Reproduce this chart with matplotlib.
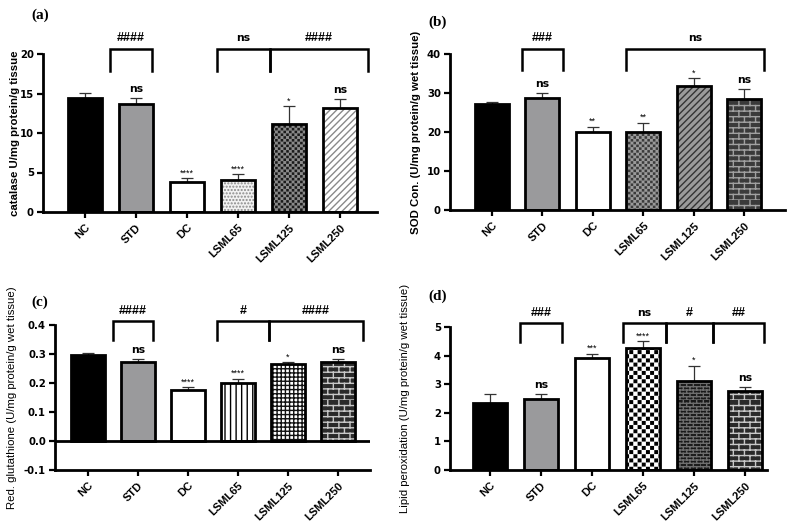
import warnings
warnings.filterwarnings('ignore')
import matplotlib
matplotlib.use('Agg')
import matplotlib.pyplot as plt
import matplotlib.hatch as mhatch
import matplotlib.transforms as mtrans
from matplotlib.path import Path
import numpy as np

# ---------------- data ----------------
categories = ['NC', 'STD', 'DC', 'LSML65', 'LSML125', 'LSML250']

catalase_mean = [14.4, 13.7, 3.8, 4.05, 11.1, 13.2]
catalase_err = [0.7, 0.7, 0.5, 0.75, 2.3, 1.1]
catalase_sig = ['', 'ns', '****', '****', '*', 'ns']
catalase_brackets = [(0.49, 1.32, '####'), (2.59, 3.64, 'ns'), (3.64, 5.55, '####')]

sod_mean = [27.1, 28.8, 20.1, 20.1, 31.9, 28.5]
sod_err = [0.7, 1.1, 1.3, 2.3, 1.9, 2.5]
sod_sig = ['', 'ns', '**', '**', '*', 'ns']
sod_brackets = [(0.6, 1.41, '###'), (2.65, 5.39, 'ns')]

gsh_mean = [0.295, 0.274, 0.175, 0.200, 0.266, 0.273]
gsh_err = [0.008, 0.009, 0.011, 0.015, 0.006, 0.010]
gsh_sig = ['', 'ns', '****', '****', '*', 'ns']
gsh_brackets = [(0.5, 1.3, '####'), (2.58, 3.62, '#'), (3.62, 5.5, '####')]

lpo_mean = [2.36, 2.49, 3.92, 4.27, 3.12, 2.77]
lpo_err = [0.30, 0.17, 0.15, 0.23, 0.53, 0.12]
lpo_sig = ['', 'ns', '***', '****', '*', 'ns']
lpo_brackets = [(0.6, 1.42, '###'), (2.6, 3.45, 'ns'), (3.45, 4.37, '#'), (4.37, 5.37, '##')]


# ---------------- custom hatches ----------------
class BrickHatch(mhatch.HatchPatternBase):
    def __init__(self, hatch, density):
        n = hatch.count('b') * density
        n = n + (n % 2)
        self.n = n
        self.num_vertices = (2 * n + n * (n // 2) * 2) if n else 0

    def set_vertices_and_codes(self, vertices, codes):
        n = self.n
        k = 0
        for i in range(n):
            y0 = i / n
            vertices[k] = (0, y0)
            vertices[k + 1] = (1, y0)
            codes[k] = Path.MOVETO
            codes[k + 1] = Path.LINETO
            k += 2
            for j in range(n // 2):
                x = (2 * j + (i % 2)) / n
                vertices[k] = (x, y0)
                vertices[k + 1] = (x, y0 + 1 / n)
                codes[k] = Path.MOVETO
                codes[k + 1] = Path.LINETO
                k += 2


class CheckerHatch(mhatch.HatchPatternBase):
    def __init__(self, hatch, density):
        n = hatch.count('c') * density
        n = n + (n % 2)
        self.n = n
        self.num_vertices = (n * n // 2) * 5 if n else 0

    def set_vertices_and_codes(self, vertices, codes):
        n = self.n
        k = 0
        ins = min(0.008, 0.3 / n)
        for i in range(n):
            for j in range(n):
                if (i + j) % 2:
                    continue
                x0, y0, s = j / n + ins, i / n + ins, 1 / n - 2 * ins
                vertices[k:k + 5] = [(x0, y0), (x0 + s, y0), (x0 + s, y0 + s),
                                     (x0, y0 + s), (x0, y0)]
                codes[k:k + 5] = [Path.MOVETO, Path.LINETO, Path.LINETO,
                                  Path.LINETO, Path.CLOSEPOLY]
                k += 5


mhatch._hatch_types.append(BrickHatch)
mhatch._hatch_types.append(CheckerHatch)

plt.rcParams['font.family'] = ['Liberation Sans', 'DejaVu Sans']
plt.rcParams['hatch.linewidth'] = 1.0

# bar styles: (facecolor, hatch, hatchcolor)
styles_a = [('black', None, 'black'), ('#9a9a9c', None, 'black'), ('white', None, 'black'),
            ('#f2f2f2', '.....', '#8a8a8a'), ('#8a8a8a', 'cccccc', '#1a1a1a'),
            ('white', '/////', '#8a8a8a')]
styles_b = [('black', None, 'black'), ('#9a9a9c', None, 'black'), ('white', None, 'black'),
            ('#9a9a9a', 'cccccc', '#3a3a3a'), ('#9a9a9a', '/////', '#333333'),
            ('#3a3a3a', 'bbb', '#a0a0a0')]
styles_c = [('black', None, 'black'), ('#9a9a9c', None, 'black'), ('white', None, 'black'),
            ('white', '|||', 'black'), ('white', '++++', '#111111'),
            ('#2a2a2a', 'bbb', '#c8c8c8')]
styles_d = [('black', None, 'black'), ('#9a9a9c', None, 'black'), ('white', None, 'black'),
            ('white', 'cccc', 'black'), ('#1a1a1a', 'bbbbb', '#6e6e6e'),
            ('#2a2a2a', 'bbb', '#c8c8c8')]

W, H = 789, 526
fig = plt.figure(figsize=(W / 100, H / 100), dpi=100)


def px_rect(left, right, top, bottom):
    return [left / W, 1 - bottom / H, (right - left) / W, (bottom - top) / H]


def panel(box, means, errs, sigs, brackets, styles, ylim, yticks, yfmt,
          ylabel, ylabel_bold, ylabel_px, letter, letter_xy, xlim, baseline_zero=False):
    left, right, top, bottom = box
    ax = fig.add_axes(px_rect(left, right, top, bottom))
    x = np.arange(len(categories))
    for i, (m, st) in enumerate(zip(means, styles)):
        fc, h, hc = st
        ax.bar(x[i], m, width=0.67, color=fc, edgecolor=hc, hatch=h, linewidth=0, zorder=2)
    ax.bar(x, means, width=0.67, fill=False, edgecolor='black', linewidth=2.0, zorder=3)
    ax.errorbar(x, means, yerr=[np.zeros(len(means)), errs], fmt='none', ecolor='#333333',
                elinewidth=0.9, capsize=4.5, capthick=0.9, zorder=1)
    # significance marks
    for xi, m, e, s in zip(x, means, errs, sigs):
        if not s:
            continue
        if s == 'ns':
            ax.annotate(s, (xi, m + e), xytext=(0, 3), textcoords='offset points',
                        ha='center', va='bottom', fontsize=7.8, fontweight='bold',
                        fontfamily='DejaVu Sans')
        else:
            ax.annotate(s, (xi, m + e), xytext=(0, 0.5), textcoords='offset points',
                        ha='center', va='bottom', fontsize=6.5)
    # brackets
    tr = mtrans.blended_transform_factory(ax.transData, ax.transAxes)
    for (x0, x1, lab) in brackets:
        ax.plot([x0, x0, x1, x1], [0.895, 1.03, 1.03, 0.895], color='black', lw=1.8,
                transform=tr, clip_on=False, solid_joinstyle='miter', zorder=4)
        if lab == 'ns':
            ax.text((x0 + x1) / 2, 1.1, lab, transform=tr, ha='center', va='center',
                    fontsize=7.8, fontweight='bold', fontfamily='DejaVu Sans')
        else:
            ax.text((x0 + x1) / 2, 1.1, lab, transform=tr, ha='center', va='center',
                    fontsize=9, fontweight='bold')
    ax.set_xlim(*xlim)
    ax.set_ylim(*ylim)
    ax.set_yticks(yticks)
    ax.set_yticklabels([yfmt.format(t) for t in yticks], fontweight='bold', fontsize=7.3,
                       fontfamily='DejaVu Sans')
    ax.set_xticks(x)
    ax.set_xticklabels(categories, rotation=45, ha='right', va='top',
                       rotation_mode='anchor', fontweight='bold', fontsize=8)
    ax.tick_params(axis='both', direction='out', width=1.6, length=4.5, pad=2)
    ax.tick_params(axis='x', pad=3)
    for sp in ['top', 'right']:
        ax.spines[sp].set_visible(False)
    for sp in ['left', 'bottom']:
        ax.spines[sp].set_linewidth(2.0)
    if baseline_zero:
        ax.axhline(0, color='black', lw=2.0, zorder=4)
    ax.set_ylabel(ylabel, fontsize=8.2, fontweight='bold' if ylabel_bold else 'normal')
    ax.yaxis.set_label_coords((ylabel_px - left) / (right - left), 0.5)
    fig.text(letter_xy[0] / W, 1 - letter_xy[1] / H, letter, fontfamily='Liberation Serif',
             fontweight='bold', fontsize=11, ha='center', va='center')
    return ax


panel((43, 377, 54, 212), catalase_mean, catalase_err, catalase_sig, catalase_brackets,
      styles_a, (0, 20), [0, 5, 10, 15, 20], '{:.0f}', 'catalase U/mg protein/g tissue', True, 20,
      '(a)', (40, 15), (-0.82, 5.73))
panel((450, 785, 54, 210), sod_mean, sod_err, sod_sig, sod_brackets,
      styles_b, (0, 40), [0, 10, 20, 30, 40], '{:.0f}', 'SOD Con. (U/mg protein/g wet tissue)', True,
      421, '(b)', (438, 22), (-0.83, 5.81))
panel((55, 370, 325, 470), gsh_mean, gsh_err, gsh_sig, gsh_brackets,
      styles_c, (-0.1, 0.4), [-0.1, 0.0, 0.1, 0.2, 0.3, 0.4], '{:.1f}',
      'Red. glutathione (U/mg protein/g wet tissue)', False, 17,
      '(c)', (40, 302), (-0.66, 5.64), baseline_zero=True)
panel((450, 767, 327, 470), lpo_mean, lpo_err, lpo_sig, lpo_brackets,
      styles_d, (0, 5), [0, 1, 2, 3, 4, 5], '{:.0f}',
      'Lipid peroxidation (U/mg protein/g wet tissue)', False, 410,
      '(d)', (438, 296), (-0.78, 5.43))

fig.savefig('out.png', dpi=100)
